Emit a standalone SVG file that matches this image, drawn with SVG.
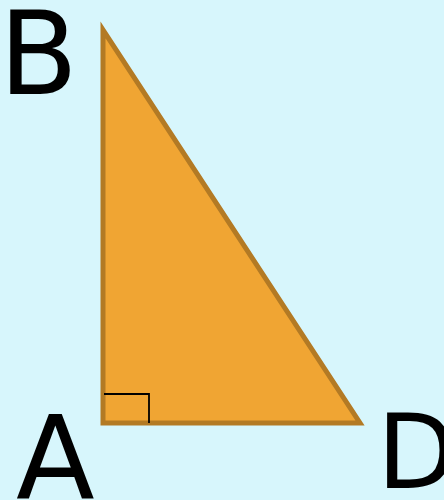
<svg xmlns="http://www.w3.org/2000/svg" width="444" height="500" viewBox="0 0 444 500">
<style>
.lbl{font-family:"DejaVu Sans",sans-serif;fill:#000}
</style>
<rect width="444" height="500" fill="#d7f6fc"/>
<g id="triangle">
<polygon points="103,30 103,423 360,423" fill="#f0a533" stroke="#b37a24" stroke-width="5"/>
<polyline points="104,394 149,394 149,423" fill="none" stroke="#000" stroke-width="1.8"/>
</g>
<g id="labelB"><text class="lbl" x="-1" y="94" font-size="115">B</text></g>
<g id="labelA"><text class="lbl" x="16" y="499" font-size="115">A</text></g>
<g id="labelD"><text class="lbl" x="377" y="488" font-size="103">D</text></g>
</svg>
